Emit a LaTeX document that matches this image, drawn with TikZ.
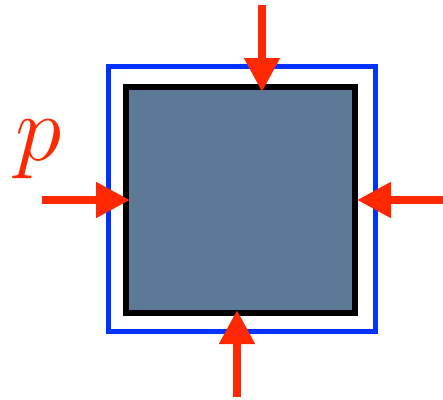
\documentclass[tikz,border=0pt]{standalone}
\usetikzlibrary{arrows.meta}
\definecolor{pushred}{RGB}{255,40,0}
\definecolor{frameblue}{RGB}{0,51,255}
\definecolor{slate}{RGB}{92,122,152}
\tikzset{push/.style={pushred, line width=8pt, -{Triangle[length=34pt,width=34pt]}}}
\begin{document}
\begin{tikzpicture}[x=1pt,y=-1pt]
\useasboundingbox (0,0) rectangle (443,399);
% outer frame and the block
\draw[frameblue, line width=5pt] (108.5,66.5) rectangle (375.5,331.5);
\node[draw=black, line width=6pt, fill=slate, inner sep=0pt,
	minimum width=229pt, minimum height=226pt] (block) at (240.5,200) {};
% pressure arrows
\coordinate (top) at (262,5);
\coordinate (topend) at (262,92);
\coordinate (bottom) at (237,397);
\coordinate (bottomend) at (237,310);
\coordinate (left) at (42,200);
\coordinate (leftend) at (130,200);
\coordinate (right) at (443,200);
\coordinate (rightend) at (357,200);
\foreach \a in {top, bottom, left, right}
	\draw[push] (\a) -- (\a end);
\node[pushred, inner sep=0pt, scale=3.78, font=\Huge] (p) at (38.5,149.5) {$p$};
\end{tikzpicture}
\end{document}
